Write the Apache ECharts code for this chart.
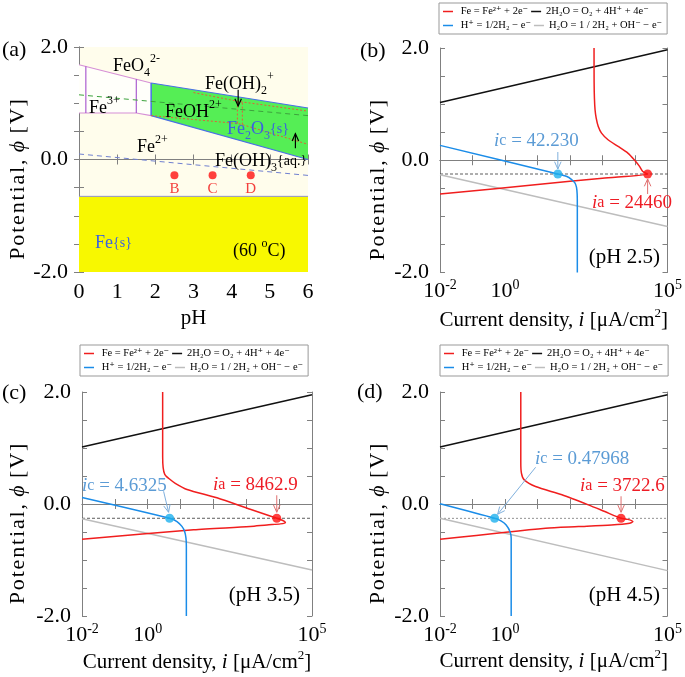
<!DOCTYPE html>
<html><head><meta charset="utf-8">
<script src="https://cdn.jsdelivr.net/npm/echarts@6/dist/echarts.min.js"></script>
<style>html,body{margin:0;padding:0;background:#fff}#c{width:685px;height:677px}</style>
</head><body><div id="c"></div>
<script>
// ---------- Panel (a): potential-pH diagram of Fe at 60 °C ----------
const phTicks = [0, 1, 2, 3, 4, 5, 6];
const feSolidPoly = [[0, -0.655], [6, -0.655], [6, -2], [0, -2]];
const fe3Poly = [[0, 1.685], [1.89, 1.36], [1.89, 0.78], [1.5, 0.827], [0, 0.827]];
const fe3Upper = [[0, 1.685], [1.89, 1.36]];
const fe3Lower = [[0, 0.827], [1.5, 0.827], [1.89, 0.78]];
const fe3Div1 = [[0.18, 1.654], [0.18, 0.827]];
const fe3Div2 = [[1.5, 1.427], [1.5, 0.827]];
const fe2o3Poly = [[1.89, 1.36], [6, 0.916], [6, 0.0], [1.89, 0.78]];
const metaUpper = [[3.0, 1.19], [4.2, 1.03], [6, 0.86]];
const metaLower = [[1.89, 0.78], [4.15, 0.64], [4.28, 0.62], [6, 0.27]];
const metaV1 = [[4.15, 0.64], [4.15, 1.035]];
const metaV2 = [[4.28, 0.62], [4.28, 1.02]];
const waterO2 = [[0, 1.15], [6, 0.78]];
const waterH2 = [[0, 0.098], [6, -0.283]];
const pointPH = [2.5, 3.5, 4.5];
const pointPhi = [-0.28, -0.28, -0.28];
const pointNames = ['B', 'C', 'D'];

// ---------- Panels (b)-(d): polarization curves ----------
const panelLabels = ['(pH 2.5)', '(pH 3.5)', '(pH 4.5)'];
const corrPhi = [-0.245, -0.255, -0.255];
const icVal = [42.230, 4.6325, 0.47968];
const iaVal = [24460, 8462.9, 3722.6];
const icText = ['42.230', '4.6325', '0.47968'];
const iaText = ['24460', '8462.9', '3722.6'];

const feB = [[0.01, -0.603], [10, -0.433], [1000, -0.32], [24460, -0.245], [17400, -0.2], [13800, -0.11], [9770, 0.0], [6030, 0.128], [3020, 0.247], [1479, 0.365], [933, 0.484], [741, 0.6], [640, 0.75], [590, 0.9], [565, 1.1], [552, 1.4], [549, 2.0]];
const hB = [[0.01, 0.265], [42.23, -0.245], [80, -0.29], [110, -0.34], [140, -0.40], [158, -0.48], [166, -0.6], [168, -0.8], [168, -2.0]];
const o2B = [[0.01, 1.03], [100000, 1.97]];
const h2oB = [[0.01, -0.26], [100000, -1.18]];

const feC = [[0.01, -0.63], [25, -0.462], [1318, -0.403], [4266, -0.373], [10960, -0.355], [15500, -0.33], [12500, -0.29], [8462.9, -0.255], [1318, -0.095], [128, 0.11], [15.7, 0.26], [6.9, 0.37], [4.5, 0.45], [3.3, 0.53], [2.95, 0.65], [2.85, 0.85], [2.85, 2.0]];
const hC = [[0.01, 0.116], [4.6325, -0.255], [7.78, -0.313], [11, -0.40], [13.3, -0.49], [14.6, -0.61], [15, -0.76], [15, -2.0]];
const o2C = [[0.01, 1.016], [100000, 1.95]];
const h2oC = [[0.01, -0.265], [100000, -1.18]];

const feD = [[0.01, -0.63], [17.7, -0.432], [182, -0.403], [1884, -0.373], [6840, -0.342], [8610, -0.314], [6000, -0.275], [3722.6, -0.255], [1175, -0.135], [367, -0.015], [56.6, 0.164], [8.7, 0.312], [3.9, 0.43], [3.2, 0.55], [3.06, 0.75], [3.06, 2.0]];
const hD = [[0.01, 0.003], [0.47968, -0.255], [0.75, -0.30], [1.07, -0.37], [1.42, -0.49], [1.55, -0.61], [1.55, -2.0]];
const o2D = [[0.01, 1.016], [100000, 1.95]];
const h2oD = [[0.01, -0.253], [100000, -1.19]];

const feCurves = [feB, feC, feD];
const hCurves = [hB, hC, hD];
const o2Curves = [o2B, o2C, o2D];
const h2oCurves = [h2oB, h2oC, h2oD];

const legendText = {
  fe: ' Fe = Fe²⁺ + 2e⁻',
  o2: '2H₂O = O₂ + 4H⁺ + 4e⁻',
  h: ' H⁺ = 1/2H₂ − e⁻',
  h2o: 'H₂O = 1 / 2H₂ + OH⁻ − e⁻'
};

// ---------- styling ----------
const FF = "'Liberation Serif','DejaVu Serif',serif";
const AX = '#808080';
const RED = '#f01e1e', BLUE = '#1a8ce8', BLACK = '#111', GRAY = '#bdbdbd';
const grids = [
  {left: 79, top: 47, width: 229, height: 225},
  {left: 440, top: 48, width: 230, height: 224.5},
  {left: 82, top: 392, width: 230, height: 224},
  {left: 440, top: 392, width: 230, height: 224}
];
const yNameGap = [47, 51, 53, 51];
const xNameGap = [33, 35, 33, 32];
const HS = '\u200A';
function spread(s) { return s.split('').join(HS); }
const yName = spread('Potential,') + ' ' + HS + '{it|ϕ}' + HS + ' ' + spread('[V]');

const chart = echarts.init(document.getElementById('c'), null, {renderer: 'canvas'});

function yLab(v) {
  return (Math.abs(v - 2) < 1e-9 || Math.abs(v) < 1e-9 || Math.abs(v + 2) < 1e-9) ? (Math.abs(v) < 1e-9 ? '0.0' : v.toFixed(1)) : '';
}
function logLab(v) {
  const e = Math.round(Math.log10(v));
  return (e === -2 || e === 0 || e === 5) ? '{b|10}{s|' + e + '}' : '';
}

const xAxes = [], yAxes = [];
grids.forEach((g, k) => {
  const isLog = k > 0;
  const base = {
    gridIndex: k,
    axisLine: {show: true, lineStyle: {color: AX, width: 1}},
    axisTick: {show: true, inside: true, length: 5, lineStyle: {color: AX}},
    splitLine: {show: false}
  };
  const xb = isLog ? {type: 'log', logBase: 10, min: 0.01, max: 100000, splitNumber: 7}
                   : {type: 'value', min: 0, max: 6, interval: 1};
  xAxes.push(Object.assign({}, base, xb, {
    position: 'bottom',
    name: isLog ? 'Current density, {it|i} [μA/cm{sup|2}]' : 'pH',
    nameLocation: 'middle', nameGap: xNameGap[k],
    nameTextStyle: {fontFamily: FF, fontSize: 21, color: '#000', lineHeight: 26,
      rich: {it: {fontFamily: FF, fontSize: 21, fontStyle: 'italic', color: '#000', lineHeight: 26},
             sup: {fontFamily: FF, fontSize: 13, color: '#000', verticalAlign: 'top', lineHeight: 13}}},
    axisLabel: isLog ? {formatter: logLab, margin: 6, color: '#000', fontFamily: FF,
        rich: {b: {fontFamily: FF, fontSize: 22, color: '#000', lineHeight: 26},
               s: {fontFamily: FF, fontSize: 14, color: '#000', verticalAlign: 'top', lineHeight: 14}}}
      : {margin: 9, color: '#000', fontFamily: FF, fontSize: 22}
  }));
  xAxes.push(Object.assign({}, base, xb, {position: 'top', axisLabel: {show: false}}));
  const yb = {type: 'value', min: -2, max: 2, interval: 0.5};
  yAxes.push(Object.assign({}, base, yb, {
    position: 'left',
    name: yName, nameLocation: 'middle', nameGap: yNameGap[k], nameRotate: 90,
    nameTextStyle: {fontFamily: FF, fontSize: 22, color: '#000', padding: [0, 40, 0, 0],
      rich: {it: {fontFamily: FF, fontSize: 22, fontStyle: 'italic', color: '#000'}}},
    axisLabel: {formatter: yLab, margin: 11, color: '#000', fontFamily: FF, fontSize: 22}
  }));
  yAxes.push(Object.assign({}, base, yb, {position: 'right', axisLabel: {show: false}}));
});

function polySeries(pts, fill, stroke, z) {
  return {
    type: 'custom', xAxisIndex: 0, yAxisIndex: 0, data: pts, encode: {x: 0, y: 1}, z: z || 1, silent: true,
    renderItem: function (params, api) {
      if (params.dataIndex !== 0) return null;
      const p = pts.map(q => api.coord(q));
      return {type: 'polygon', shape: {points: p}, style: {fill: fill, stroke: stroke || 'none', lineWidth: 1}};
    }
  };
}
function lineA(data, color, width, type, z) {
  return {type: 'line', xAxisIndex: 0, yAxisIndex: 0, data: data, symbol: 'none', silent: true, z: z || 3,
    lineStyle: {color: color, width: width, type: type || 'solid'}};
}

const series = [];
// panel a
series.push(polySeries(feSolidPoly, '#f8f800', null, 1));
series.push(lineA([feSolidPoly[0], feSolidPoly[1]], '#8f8fd0', 1, 'solid', 3));
series.push(polySeries(fe3Poly, '#fffffa', null, 1));
series.push(polySeries(fe2o3Poly, '#55ee55', null, 1));
series.push(lineA(fe3Upper, '#d690d6', 1.2));
series.push(lineA(fe3Lower, '#d690d6', 1.2));
series.push(lineA(fe3Div1, '#9b3fc8', 1));
series.push(lineA(fe3Div2, '#9b3fc8', 1));
series.push(lineA([fe2o3Poly[0], fe2o3Poly[1]], '#4a6fe6', 1.2));
series.push(lineA([fe2o3Poly[3], fe2o3Poly[2]], '#4a6fe6', 1.2));
series.push(lineA([fe2o3Poly[0], fe2o3Poly[3]], '#4a6fe6', 1.5));
series.push(lineA(metaUpper, '#e0603a', 1, [2, 2]));
series.push(lineA(metaLower, '#e0603a', 1, [2, 2]));
series.push(lineA(metaV1, '#e0603a', 1, [2, 2]));
series.push(lineA(metaV2, '#e0603a', 1, [2, 2]));
series.push(lineA(waterO2, '#3da33d', 1, [5, 4]));
series.push(lineA(waterH2, '#7080d0', 1, [5, 4]));
series.push({type: 'scatter', xAxisIndex: 0, yAxisIndex: 0, symbolSize: 8, z: 5, silent: true,
  itemStyle: {color: '#ff1010'},
  data: pointPH.map((p, i) => ({value: [p, pointPhi[i]], name: pointNames[i]})),
  label: {show: true, position: 'bottom', distance: 2, formatter: '{b}', color: '#f01010', fontFamily: FF, fontSize: 15}});

// panels b-d
for (let k = 0; k < 3; k++) {
  const xi = 2 * (k + 1), yi = 2 * (k + 1);
  const common = {xAxisIndex: xi, yAxisIndex: yi, type: 'line', symbol: 'none', silent: true};
  series.push(Object.assign({}, common, {name: 'corr', data: [[0.01, corrPhi[k]], [100000, corrPhi[k]]], z: 2,
    lineStyle: {color: k === 2 ? '#777' : '#333', width: 0.8, type: k === 2 ? [2, 2] : [3, 2]}}));
  series.push(Object.assign({}, common, {name: 'o2', data: o2Curves[k], color: BLACK, lineStyle: {color: BLACK, width: 1.5}, z: 3}));
  series.push(Object.assign({}, common, {name: 'h2o', data: h2oCurves[k], color: GRAY, lineStyle: {color: GRAY, width: 1.5}, z: 3}));
  series.push(Object.assign({}, common, {name: 'fe', data: feCurves[k], color: RED, smooth: 0.25, lineStyle: {color: RED, width: 1.5}, z: 4}));
  series.push(Object.assign({}, common, {name: 'h', data: hCurves[k], color: BLUE, smooth: 0.25, lineStyle: {color: BLUE, width: 1.5}, z: 4}));
  series.push({type: 'scatter', xAxisIndex: xi, yAxisIndex: yi, symbolSize: 9, z: 6, silent: true,
    data: [{value: [icVal[k], corrPhi[k]], itemStyle: {color: '#1eb0ee'}}, {value: [iaVal[k], corrPhi[k]], itemStyle: {color: '#ff1010'}}]});
}

const legendPos = [{left: 439, top: 3}, {left: 80, top: 345}, {left: 440, top: 345}];
const legends = legendPos.map(p => ({
  left: p.left, top: p.top, orient: 'horizontal', icon: 'rect', itemWidth: 10, itemHeight: 1.5, itemGap: 3,
  padding: [3, 5, 3, 4], borderColor: '#999', borderWidth: 1, selectedMode: false,
  textStyle: {fontFamily: FF, fontSize: 10.5, color: '#000'},
  formatter: n => legendText[n],
  data: [{name: 'fe', textStyle: {width: 78}}, {name: 'o2'}, '', {name: 'h', textStyle: {width: 78}}, {name: 'h2o'}]
}));

chart.setOption({
  animation: false,
  backgroundColor: '#ffffff',
  grid: grids.map((g, k) => Object.assign({}, g, {show: k === 0, backgroundColor: '#fffdec', borderWidth: 0})),
  xAxis: xAxes, yAxis: yAxes, legend: legends, series: series
});

// ---------- annotations ----------
const gr = [];
function px(gi, pt) { return chart.convertToPixel({gridIndex: gi}, pt); }
function arrow(p1, p2, color, w) {
  const ang = Math.atan2(p2[1] - p1[1], p2[0] - p1[0]);
  const L = 8, a = 0.42;
  const h1 = [p2[0] - L * Math.cos(ang - a), p2[1] - L * Math.sin(ang - a)];
  const h2 = [p2[0] - L * Math.cos(ang + a), p2[1] - L * Math.sin(ang + a)];
  gr.push({type: 'polyline', z: 100, silent: true, shape: {points: [p1, p2]}, style: {stroke: color, lineWidth: w, fill: 'none'}});
  gr.push({type: 'polyline', z: 100, silent: true, shape: {points: [h1, p2, h2]}, style: {stroke: color, lineWidth: w, fill: 'none'}});
}
function txt(x, y, text, o) {
  gr.push({type: 'text', x: x, y: y, z: 101, silent: true,
    style: Object.assign({text: text, fontFamily: FF, fontSize: 18, fill: '#000', align: 'left', verticalAlign: 'middle'}, o || {})});
}
function chemRich(size, color) {
  return {
    n: {fontFamily: FF, fontSize: size, fill: color, lineHeight: size + 8},
    sub: {fontFamily: FF, fontSize: Math.round(size * 0.68), fill: color, verticalAlign: 'bottom', lineHeight: Math.round(size * 0.68)},
    sup: {fontFamily: FF, fontSize: Math.round(size * 0.68), fill: color, verticalAlign: 'top', lineHeight: Math.round(size * 0.68)},
    sm: {fontFamily: FF, fontSize: Math.round(size * 0.75), fill: color, lineHeight: size + 8}
  };
}
// panel letters
txt(2, 50, '(a)', {fontSize: 22});
txt(360, 51, '(b)', {fontSize: 22});
txt(2, 393, '(c)', {fontSize: 22});
txt(357, 392, '(d)', {fontSize: 22});

// panel a labels
const R18 = chemRich(18, '#000'), RB = chemRich(18, '#3b62e0');
txt(113, 66, '{n|FeO}{sub|4}{sup|2-}', {rich: R18});
txt(89, 108, '{n|Fe}{sup|3+}', {rich: R18});
txt(205, 84, '{n|Fe(OH)}{sub|2}{sup|+}', {rich: R18});
txt(165, 112, '{n|FeOH}{sup|2+}', {rich: R18});
txt(227, 129, '{n|Fe}{sub|2}{n|O}{sub|3}{sm|{}{sm|s}}', {rich: RB, fill: '#3b62e0', fontSize: 14});
txt(137, 147, '{n|Fe}{sup|2+}', {rich: R18});
txt(215, 161, '{n|Fe(OH)}{sub|3}{sm|{}{sm|aq.}}', {rich: R18, fontSize: 13});
txt(95, 243, '{n|Fe}{sm|{}{sm|s}}', {rich: RB, fill: '#3b62e0', fontSize: 14});
txt(233, 251, '{n|(60 }{sup|o}{n|C)}', {rich: R18});
arrow(px(0, [4.17, 1.24]), px(0, [4.17, 0.95]), '#000', 1.2);
arrow(px(0, [5.67, 0.2]), px(0, [5.67, 0.46]), '#000', 1.2);

// panels b-d annotations
const icPos = [[494, 141], [82, 486], [535, 459]];
const iaPos = [[592, 203], [213, 485], [580, 486]];
const phPos = [[660, 257], [300, 595], [660, 595]];
const richI = col => ({
  it: {fontFamily: FF, fontSize: 19, fontStyle: 'italic', fill: col},
  c: {fontFamily: FF, fontSize: 16, fill: col},
  n: {fontFamily: FF, fontSize: 19, fill: col}
});
for (let k = 0; k < 3; k++) {
  const gi = k + 1;
  const pc = px(gi, [icVal[k], corrPhi[k]]);
  const pa = px(gi, [iaVal[k], corrPhi[k]]);
  txt(icPos[k][0], icPos[k][1], '{it|i}{c|c}{n| = ' + icText[k] + '}', {rich: richI('#5b9bd5')});
  txt(iaPos[k][0], iaPos[k][1], '{it|i}{c|a}{n| = ' + iaText[k] + '}', {rich: richI('#ee1c25')});
  txt(phPos[k][0], phPos[k][1], panelLabels[k], {fontSize: 21, align: 'right'});
  if (k === 0) {
    arrow([pc[0], pc[1] - 22], [pc[0], pc[1] - 5], '#7fb0dd', 1);
    arrow([pa[0], pa[1] + 20], [pa[0], pa[1] + 5], '#e07070', 1);
  } else if (k === 1) {
    arrow([pc[0] - 6, pc[1] - 27], [pc[0] - 1, pc[1] - 6], '#7fb0dd', 1);
    arrow([pa[0], pa[1] - 23], [pa[0], pa[1] - 6], '#e07070', 1);
  } else {
    arrow([pc[0] + 41, pc[1] - 51], [pc[0] + 3, pc[1] - 4], '#7fb0dd', 1);
    arrow([pa[0], pa[1] - 22], [pa[0], pa[1] - 6], '#e07070', 1);
  }
}
chart.setOption({graphic: gr});
</script>
</body></html>
